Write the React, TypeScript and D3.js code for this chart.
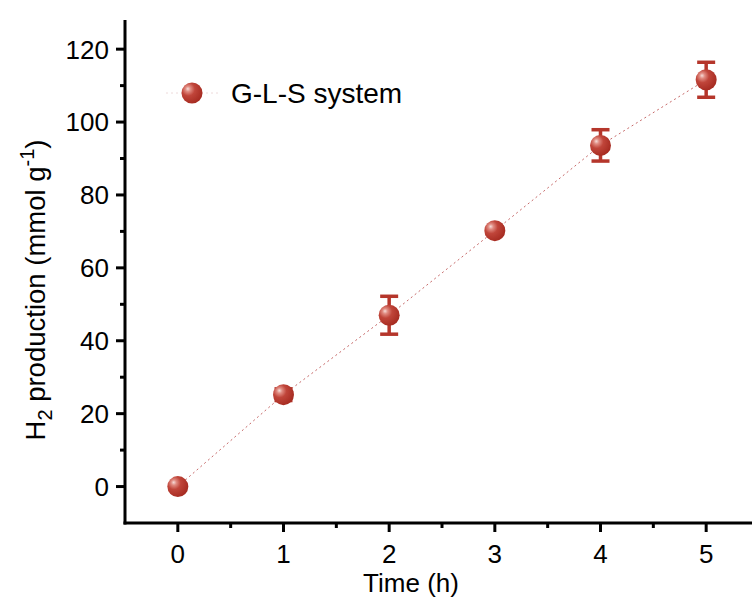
import React from "react";
import * as d3 from "d3";

const times = [0, 1, 2, 3, 4, 5];
const production = [0, 25.2, 47, 70.2, 93.6, 111.6];
const errors = [0, 1.6, 5.2, 1.0, 4.3, 4.8];
const xTicks = [0, 1, 2, 3, 4, 5];
const yTicks = [0, 20, 40, 60, 80, 100, 120];
const seriesName = "G-L-S system";

const W = 752;
const H = 603;
const x = d3.scaleLinear().domain([-0.5, 5.5]).range([125, 759]);
const y = d3.scaleLinear().domain([-10, 128]).range([523, 20]);

const FONT = "'Liberation Sans', Arial, sans-serif";
const RED = "#b5362b";

export default function App() {
  const line = d3
    .line<number>()
    .x((_, i) => x(times[i]))
    .y((d) => y(d));
  const xMinor = d3.range(-0.5, 5.6, 0.5).filter((v) => !xTicks.includes(v) && v > -0.5);
  const yMinor = d3.range(-10, 128, 10).filter((v) => !yTicks.includes(v) && v > -10);
  const x0 = x(-0.5);
  const yb = y(-10);
  return (
    <svg width={W} height={H} style={{ position: "absolute", left: 0, top: 0 }} fontFamily={FONT}>
      <defs>
        <radialGradient id="ball" cx="0.35" cy="0.35" r="0.7" fx="0.3" fy="0.3">
          <stop offset="0" stopColor="#f6dcd8" />
          <stop offset="0.18" stopColor="#e08a80" />
          <stop offset="0.45" stopColor="#c0453a" />
          <stop offset="1" stopColor="#a52a20" />
        </radialGradient>
      </defs>
      <rect width={W} height={H} fill="#fff" />
      {/* connecting line */}
      <path d={line(production) || ""} fill="none" stroke="#c76a6a" strokeWidth={1} strokeDasharray="2,3" />
      {/* error bars */}
      {times.map((t, i) =>
        errors[i] > 0.5 ? (
          <g key={"e" + i} stroke={RED} strokeWidth={3.5}>
            <line x1={x(t)} x2={x(t)} y1={y(production[i] - errors[i])} y2={y(production[i] + errors[i])} />
            <line x1={x(t) - 9} x2={x(t) + 9} y1={y(production[i] + errors[i])} y2={y(production[i] + errors[i])} />
            <line x1={x(t) - 9} x2={x(t) + 9} y1={y(production[i] - errors[i])} y2={y(production[i] - errors[i])} />
          </g>
        ) : null
      )}
      {times.map((t, i) => (
        <circle key={"p" + i} cx={x(t)} cy={y(production[i])} r={10.5} fill="url(#ball)" />
      ))}
      {/* axes */}
      <line x1={x0} x2={x0} y1={y(128)} y2={yb + 1.5} stroke="#000" strokeWidth={3} />
      <line x1={x0 - 1.5} x2={W} y1={yb} y2={yb} stroke="#000" strokeWidth={3} />
      {yTicks.map((v) => (
        <g key={"yt" + v}>
          <line x1={x0 - 9} x2={x0} y1={y(v)} y2={y(v)} stroke="#000" strokeWidth={3} />
          <text x={x0 - 16} y={y(v)} dy="0.36em" textAnchor="end" fontSize={26}>
            {v}
          </text>
        </g>
      ))}
      {yMinor.map((v) => (
        <line key={"ym" + v} x1={x0 - 5} x2={x0} y1={y(v)} y2={y(v)} stroke="#000" strokeWidth={3} />
      ))}
      {xTicks.map((v) => (
        <g key={"xt" + v}>
          <line x1={x(v)} x2={x(v)} y1={yb} y2={yb + 9} stroke="#000" strokeWidth={3} />
          <text x={x(v)} y={563} textAnchor="middle" fontSize={26}>
            {v}
          </text>
        </g>
      ))}
      {xMinor.map((v) => (
        <line key={"xm" + v} x1={x(v)} x2={x(v)} y1={yb} y2={yb + 5} stroke="#000" strokeWidth={3} />
      ))}
      <text x={411} y={592} textAnchor="middle" fontSize={26}>
        Time (h)
      </text>
      <text transform={`translate(45,290) rotate(-90)`} textAnchor="middle" fontSize={27.5}>
        H<tspan fontSize={20} dy={7}>2</tspan>
        <tspan dy={-7}> production (mmol g</tspan>
        <tspan fontSize={20} dy={-11}>-1</tspan>
        <tspan dy={11}>)</tspan>
      </text>
      {/* legend */}
      <line x1={166} x2={218} y1={93} y2={93} stroke="#eedada" strokeWidth={1} strokeDasharray="2,3" />
      <circle cx={192} cy={93} r={10.5} fill="url(#ball)" />
      <text x={231} y={103} fontSize={28}>
        {seriesName}
      </text>
    </svg>
  );
}
